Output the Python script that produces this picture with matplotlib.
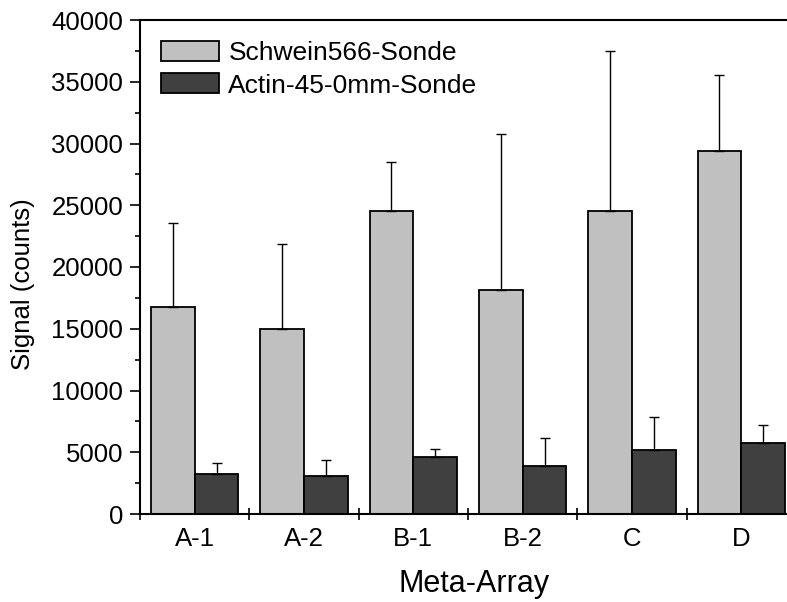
import numpy as np
import matplotlib
matplotlib.use("Agg")
import matplotlib.pyplot as plt
from matplotlib.ticker import MultipleLocator, FixedLocator

plt.rcParams['font.family'] = ['Liberation Sans', 'DejaVu Sans']

categories = ["A-1", "A-2", "B-1", "B-2", "C", "D"]
schwein = [16750, 15000, 24500, 18100, 24500, 29400]
schwein_err = [6800, 6900, 4000, 12700, 12950, 6150]
actin = [3270, 3050, 4650, 3850, 5170, 5750]
actin_err = [900, 1320, 650, 2300, 2700, 1450]
series_names = ["Schwein566-Sonde", "Actin-45-0mm-Sonde"]

W, H = 787, 602
fig = plt.figure(figsize=(W / 100, H / 100), dpi=100)
left, right, top, bottom = 140, 796, 20, 514
ax = fig.add_axes([left / W, 1 - bottom / H, (right - left) / W, (bottom - top) / H])

x = np.arange(1, len(categories) + 1)
bw = 0.4
err_kw = dict(ecolor="black", elinewidth=1.0, capsize=3.8, capthick=1.0)
ax.bar(x - bw / 2, schwein, bw, color="#c0c0c0", edgecolor="black", linewidth=1.3,
       yerr=[np.zeros(len(schwein)), schwein_err], error_kw=err_kw, label=series_names[0])
ax.bar(x + bw / 2, actin, bw, color="#404040", edgecolor="black", linewidth=1.3,
       yerr=[np.zeros(len(actin)), actin_err], error_kw=err_kw, label=series_names[1])

ax.set_xlim(0.5, 6.5)
ax.set_ylim(0, 40000)

# group separators as major ticks, category names on minor ticks
ax.xaxis.set_major_locator(FixedLocator(np.arange(0.5, 7, 1.0)))
ax.xaxis.set_minor_locator(FixedLocator(x))
ax.set_xticklabels([], minor=False)
ax.set_xticklabels(categories, minor=True)
ax.tick_params(axis="x", which="major", direction="inout", length=8, width=1.2)
ax.tick_params(axis="x", which="minor", length=0, labelsize=18.5, pad=9)

ax.yaxis.set_major_locator(MultipleLocator(5000))
ax.yaxis.set_minor_locator(MultipleLocator(2500))
ax.tick_params(axis="y", which="major", direction="out", length=7, width=1.2, labelsize=18.5, pad=5)
ax.tick_params(axis="y", which="minor", direction="out", length=3.6, width=1.2)

for s in ax.spines.values():
    s.set_linewidth(1.5)
ax.spines["right"].set_visible(False)

ax.set_xlabel("Meta-Array", fontsize=22)
ax.xaxis.set_label_coords(0.51, -0.112)
ax.set_ylabel("Signal (counts)", fontsize=18.5)
ax.yaxis.set_label_coords(-0.16, 0.465)

ax.legend(loc="upper left", frameon=False, fontsize=19, handlelength=2.2,
          handleheight=0.8, handletextpad=0.35, labelspacing=0.3,
          borderaxespad=0.5, borderpad=0.3)

fig.savefig("out.png", dpi=100)
